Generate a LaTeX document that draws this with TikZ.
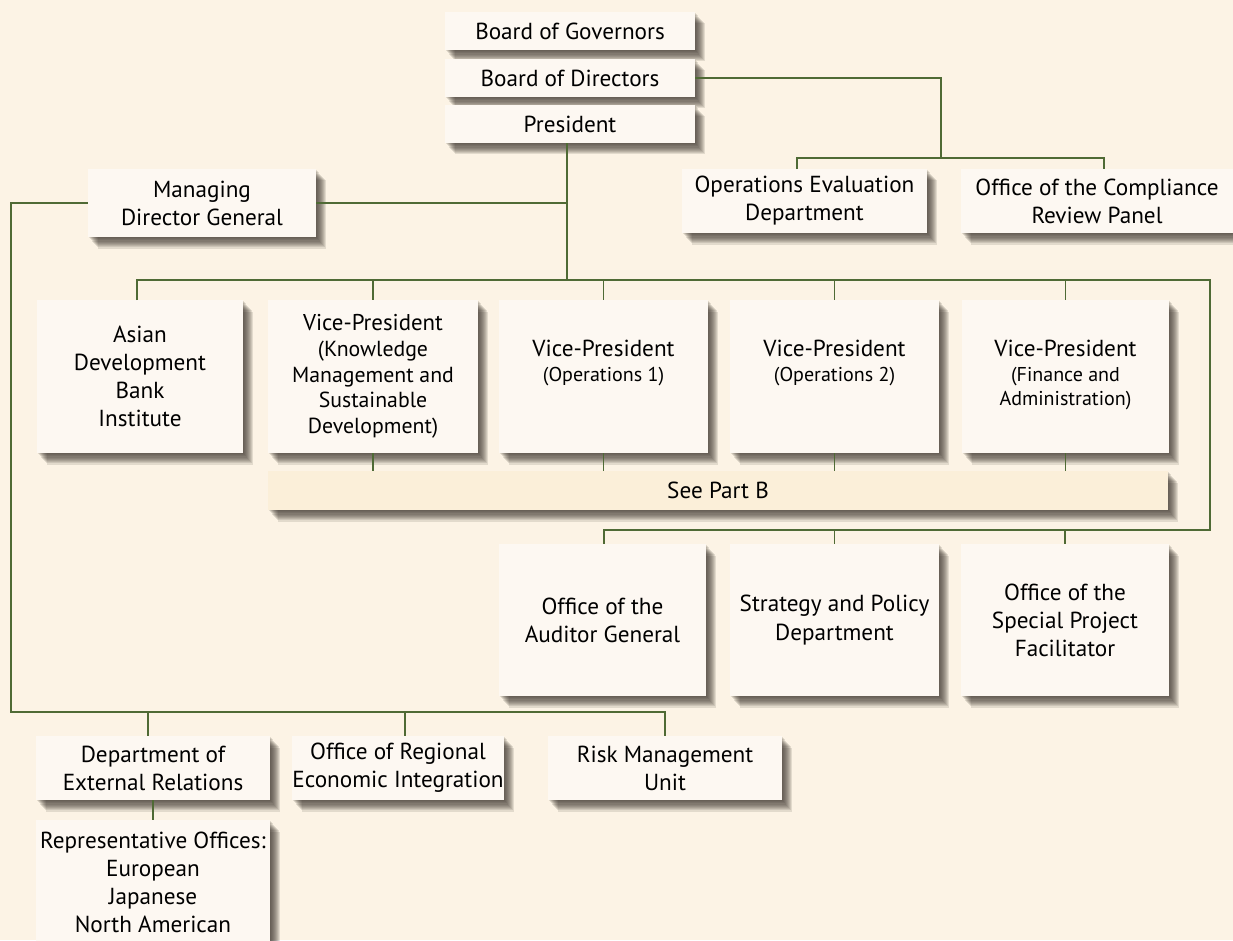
\documentclass[tikz,border=0pt]{standalone}
\usepackage{fontspec}
\setmainfont{PT Sans}
\usetikzlibrary{shadows}
\definecolor{paper}{HTML}{FCF3E5}
\definecolor{boxfill}{HTML}{FDF8F2}
\definecolor{partfill}{HTML}{FBEFD9}
\definecolor{linkgreen}{HTML}{4F6A35}
\definecolor{shade}{HTML}{3A322A}
\newcommand\vpsub{\fontsize{11.4}{14}\selectfont}
\newcommand\kmsub{\fontsize{12.4}{14.6}\selectfont}
\begin{document}
\begin{tikzpicture}[x=0.02cm,y=-0.02cm,
  soft/.style={drop shadow={shadow xshift=#1*0.02cm, shadow yshift=-#1*0.023cm,
      fill=shade, opacity=0.13}},
  box/.style 2 args={fill=boxfill, align=center, inner sep=0pt,
    minimum width=#1*0.02cm, minimum height=#2*0.02cm,
    font=\fontsize{13.2}{16}\selectfont,
    soft=10, soft=9, soft=8, soft=7, soft=6, soft=5, soft=4, soft=3, soft=2, soft=1},
  link/.style={draw=linkgreen, line width=0.6pt}]
  \useasboundingbox[fill=paper] (0,0) rectangle (1233,940);
  \begin{scope}
  \clip (0,0) rectangle (1233,940);
  % top of the chart
  \node[box={250}{38}] (bog) at (570,31) {Board of Governors};
  \node[box={250}{38}] (bod) at (570,78) {Board of Directors};
  \node[box={250}{38}] (pres) at (570,124) {President};
  \node[box={245}{64}] (oed) at (804.5,201) {Operations Evaluation\\Department};
  \node[box={272}{64}] (ocrp) at (1097,201) {Office of the Compliance\\Review Panel};
  \node[box={228}{68}] (mdg) at (202,203) {Managing\\Director General};
  % vice-presidents
  \node[box={206}{153}] (adbi) at (140,376.5) {Asian\\Development\\Bank\\Institute};
  \node[box={210}{153}, font=\kmsub] (vpkm) at (373,376.5)
    {\fontsize{13}{14.6}\selectfont Vice-President\\\kmsub (Knowledge\\\kmsub Management and\\\kmsub Sustainable\\\kmsub Development)};
  \node[box={209}{153}, text depth=18pt] (vpo1) at (603.5,376.5)
    {Vice-President\\[-2pt]\vpsub (Operations 1)};
  \node[box={209}{153}, text depth=18pt] (vpo2) at (834.5,376.5)
    {Vice-President\\[-2pt]\vpsub (Operations 2)};
  \node[box={207}{153}, text depth=4pt] (vpfa) at (1065.5,376.5)
    {Vice-President\\[-2pt]\vpsub (Finance and\\[-2pt]\vpsub Administration)};
  \node[box={900}{39}, fill=partfill] (partb) at (718,490.5) {See Part B};
  % offices under the president
  \node[box={207}{152}] (oag) at (602.5,620) {Office of the\\Auditor General};
  \node[box={209}{152}] (spd) at (834.5,620) {Strategy and Policy\\Department};
  \node[box={208}{152}] (ospf) at (1065,620) {Office of the\\Special Project\\Facilitator};
  % under the managing director general
  \node[box={234}{64}] (der) at (153,768) {Department of\\External Relations};
  \node[box={210}{64}] (orei) at (398,768) {Office of Regional\\Economic Integration};
  \node[box={234}{64}] (rmu) at (665,768) {Risk Management\\Unit};
  \node[box={234}{125}] (rep) at (153,882.5)
    {Representative Offices:\\European\\Japanese\\North American};
  % connectors
  \coordinate (bodr) at (941,158);
  \coordinate (oedtop) at (797,169);
  \coordinate (ocrptop) at (1104,169);
  \draw[link] (bod.east) -| (bodr);
  \draw[link] (oedtop) |- (bodr) -| (ocrptop);
  \coordinate (vpbar) at (567,280);
  \coordinate (vpright) at (1210,280);
  \coordinate (offbar) at (604,530);
  \coordinate (mdgbar) at (11,712);
  \coordinate (adbitop) at (137,300);
  \draw[link] (pres.south -| vpbar) -- (vpbar);
  \draw[link] (mdg.east) -- (mdg.east -| vpbar);
  \draw[link] (mdg.west) -| (mdgbar) -| (rmu.north);
  \draw[link] (der.north -| 148,736) -- (mdgbar -| 148,736);
  \draw[link] (orei.north -| 405,736) -- (mdgbar -| 405,736);
  \draw[link] (adbitop) |- (vpright) |- (offbar) -- (offbar |- oag.north);
  \foreach \n in {vpkm,vpo1,vpo2,vpfa} {
    \draw[link] (\n.north |- vpbar) -- (\n.north);
    \draw[link] (\n.south) -- (\n.south |- partb.north);
  }
  \foreach \n in {spd,ospf} {
    \draw[link] (\n.north |- offbar) -- (\n.north);
  }
  \draw[link] (der.south) -- (rep.north);
  \end{scope}
\end{tikzpicture}
\end{document}
